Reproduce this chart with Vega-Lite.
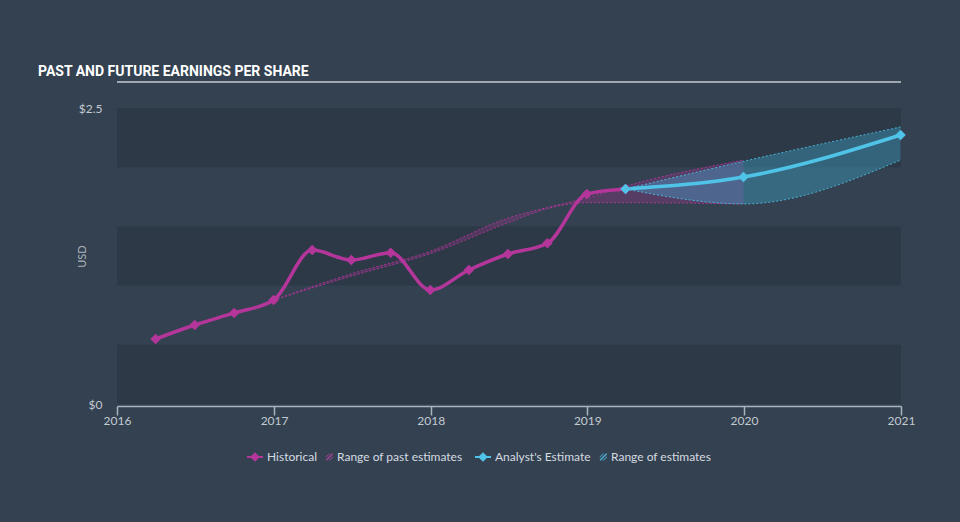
{
  "$schema": "https://vega.github.io/schema/vega-lite/v6.json",
  "width": 784,
  "height": 296,
  "autosize": {"type": "none"},
  "padding": {"left": 117, "top": 108, "right": 59, "bottom": 118},
  "background": "#334150",
  "title": {
    "text": "PAST AND FUTURE EARNINGS PER SHARE",
    "anchor": "start",
    "frame": "group",
    "dx": -79,
    "offset": 2,
    "fontSize": 14,
    "font": "Roboto",
    "fontWeight": "bold",
    "color": "#ffffff"
  },
  "config": {
    "view": {"stroke": null},
    "font": "Lato",
    "axis": {"grid": false, "labelFont": "Lato", "titleFont": "Lato"}
  },
  "resolve": {"scale": {"color": "independent"}, "legend": {"color": "independent"}},
  "datasets": {
    "bands": [{"lo": 0, "hi": 0.5}, {"lo": 1, "hi": 1.5}, {"lo": 2, "hi": 2.5}],
    "eps": [
      {"date": "2016-03-31", "eps": 0.549, "series": "Historical"},
      {"date": "2016-06-30", "eps": 0.667, "series": "Historical"},
      {"date": "2016-09-30", "eps": 0.769, "series": "Historical"},
      {"date": "2016-12-31", "eps": 0.878, "series": "Historical"},
      {"date": "2017-03-31", "eps": 1.30, "series": "Historical"},
      {"date": "2017-06-30", "eps": 1.216, "series": "Historical"},
      {"date": "2017-09-30", "eps": 1.278, "series": "Historical"},
      {"date": "2017-12-31", "eps": 0.963, "series": "Historical"},
      {"date": "2018-03-31", "eps": 1.132, "series": "Historical"},
      {"date": "2018-06-30", "eps": 1.267, "series": "Historical"},
      {"date": "2018-09-30", "eps": 1.357, "series": "Historical"},
      {"date": "2018-12-31", "eps": 1.774, "series": "Historical"},
      {"date": "2019-03-31", "eps": 1.816, "series": "Historical"},
      {"date": "2019-03-31", "eps": 1.816, "series": "Analyst's Estimate"},
      {"date": "2019-12-31", "eps": 1.917, "series": "Analyst's Estimate"},
      {"date": "2020-12-31", "eps": 2.272, "series": "Analyst's Estimate"}
    ],
    "pastRange": [
      {"date": "2016-12-31", "low": 0.878, "high": 0.878},
      {"date": "2017-06-30", "low": 1.08, "high": 1.10},
      {"date": "2017-12-31", "low": 1.27, "high": 1.29},
      {"date": "2018-06-30", "low": 1.53, "high": 1.57},
      {"date": "2018-09-30", "low": 1.65, "high": 1.66},
      {"date": "2018-12-31", "low": 1.70, "high": 1.74},
      {"date": "2019-03-31", "low": 1.70, "high": 1.84},
      {"date": "2019-12-31", "low": 1.69, "high": 2.06}
    ],
    "futureRange": [
      {"date": "2019-03-31", "low": 1.816, "high": 1.816},
      {"date": "2019-12-31", "low": 1.69, "high": 2.05},
      {"date": "2020-12-31", "low": 2.06, "high": 2.34}
    ]
  },
  "encoding": {
    "x": {
      "field": "date",
      "type": "temporal",
      "title": null,
      "scale": {
        "type": "utc",
        "domain": [
          {"year": 2016, "month": 1, "date": 1, "utc": true},
          {"year": 2021, "month": 1, "date": 1, "utc": true}
        ]
      },
      "axis": {
        "values": [
          {"year": 2016, "month": 1, "date": 1, "utc": true},
          {"year": 2017, "month": 1, "date": 1, "utc": true},
          {"year": 2018, "month": 1, "date": 1, "utc": true},
          {"year": 2019, "month": 1, "date": 1, "utc": true},
          {"year": 2020, "month": 1, "date": 1, "utc": true},
          {"year": 2021, "month": 1, "date": 1, "utc": true}
        ],
        "format": "%Y",
        "domainColor": "#aab4bf",
        "domainWidth": 1.5,
        "tickColor": "#aab4bf",
        "tickSize": 9,
        "tickWidth": 1.5,
        "offset": 2,
        "labelColor": "#c3cad2",
        "labelFontSize": 12,
        "labelPadding": 0,
        "labelFlush": false
      }
    }
  },
  "layer": [
    {
      "data": {"name": "bands"},
      "mark": {"type": "rect", "color": "#2d3947"},
      "encoding": {
        "x": null,
        "y": {
          "field": "lo",
          "type": "quantitative",
          "title": "USD",
          "scale": {"domain": [0, 2.5], "nice": false},
          "axis": {
            "values": [0, 2.5],
            "labelExpr": "'$' + datum.value",
            "domain": false,
            "ticks": false,
            "labelPadding": 15,
            "labelColor": "#c3cad2",
            "labelFontSize": 12,
            "titleColor": "#aab2bc",
            "titleFontSize": 11,
            "titleFontWeight": "normal",
            "titleX": -30,
            "titleY": 148
          }
        },
        "y2": {"field": "hi"}
      }
    },
    {
      "data": {"name": "pastRange"},
      "mark": {"type": "area", "interpolate": "monotone", "color": "#b5369b", "fillOpacity": 0.28},
      "encoding": {"y": {"field": "low", "type": "quantitative"}, "y2": {"field": "high"}}
    },
    {
      "data": {"name": "pastRange"},
      "mark": {"type": "line", "interpolate": "monotone", "color": "#b5369b", "strokeWidth": 1, "strokeDash": [2, 2], "opacity": 0.85},
      "encoding": {"y": {"field": "low", "type": "quantitative"}}
    },
    {
      "data": {"name": "pastRange"},
      "mark": {"type": "line", "interpolate": "monotone", "color": "#b5369b", "strokeWidth": 1, "strokeDash": [2, 2], "opacity": 0.85},
      "encoding": {"y": {"field": "high", "type": "quantitative"}}
    },
    {
      "data": {"name": "futureRange"},
      "mark": {"type": "area", "interpolate": "monotone", "color": "#3fb5dc", "fillOpacity": 0.35},
      "encoding": {"y": {"field": "low", "type": "quantitative"}, "y2": {"field": "high"}}
    },
    {
      "data": {"name": "futureRange"},
      "mark": {"type": "line", "interpolate": "monotone", "color": "#4fc3e8", "strokeWidth": 1, "strokeDash": [2, 2], "opacity": 0.85},
      "encoding": {"y": {"field": "low", "type": "quantitative"}}
    },
    {
      "data": {"name": "futureRange"},
      "mark": {"type": "line", "interpolate": "monotone", "color": "#4fc3e8", "strokeWidth": 1, "strokeDash": [2, 2], "opacity": 0.85},
      "encoding": {"y": {"field": "high", "type": "quantitative"}}
    },
    {
      "data": {"name": "eps"},
      "transform": [{"filter": "datum.series == 'Historical'"}],
      "mark": {"type": "line", "interpolate": "monotone", "color": "#b5369b", "strokeWidth": 3.5},
      "encoding": {"y": {"field": "eps", "type": "quantitative"}}
    },
    {
      "data": {"name": "eps"},
      "transform": [{"filter": "datum.series != 'Historical'"}],
      "mark": {"type": "line", "interpolate": "monotone", "color": "#4fc3e8", "strokeWidth": 3.5},
      "encoding": {"y": {"field": "eps", "type": "quantitative"}}
    },
    {
      "data": {"name": "eps"},
      "transform": [{"filter": "datum.series == 'Historical'"}],
      "mark": {"type": "point", "shape": "diamond", "filled": true, "size": 110, "opacity": 1},
      "encoding": {
        "y": {"field": "eps", "type": "quantitative"},
        "color": {
          "field": "series",
          "type": "nominal",
          "scale": {
            "domain": ["Historical", "Range of past estimates"],
            "range": ["#b5369b", "#9a4590"]
          },
          "legend": {
            "title": null,
            "orient": "none",
            "direction": "horizontal",
            "legendX": 130,
            "legendY": 341,
            "padding": 0,
            "columnPadding": -6,
            "symbolSize": 256,
            "symbolStrokeWidth": 0,
            "symbolOpacity": 1,
            "labelOffset": 4,
            "labelFont": "Lato",
            "labelFontSize": 12,
            "labelColor": "#d6dbe0",
            "encode": {
              "symbols": {
                "update": {
                  "shape": {"signal": "indexof(datum.label, 'Range') >= 0 ? 'M0.1,0.3L0.85,-0.45L1,-0.45L1,-0.3L0.25,0.45L0.1,0.45ZM0.1,-0.05L0.5,-0.45L0.65,-0.45L0.1,0.1ZM1,0.05L0.6,0.45L0.45,0.45L1,-0.1Z' : 'M-1,-0.12L-0.48,-0.12L0,-0.6L0.48,-0.12L1,-0.12L1,0.12L0.48,0.12L0,0.6L-0.48,0.12L-1,0.12Z'"}
                }
              }
            }
          }
        }
      }
    },
    {
      "data": {"name": "eps"},
      "transform": [{"filter": "datum.series != 'Historical'"}],
      "mark": {"type": "point", "shape": "diamond", "filled": true, "size": 110, "opacity": 1},
      "encoding": {
        "y": {"field": "eps", "type": "quantitative"},
        "color": {
          "field": "series",
          "type": "nominal",
          "scale": {
            "domain": ["Analyst's Estimate", "Range of estimates"],
            "range": ["#4fc3e8", "#4aa8cc"]
          },
          "legend": {
            "title": null,
            "orient": "none",
            "direction": "horizontal",
            "legendX": 358,
            "legendY": 341,
            "padding": 0,
            "columnPadding": -6,
            "symbolSize": 256,
            "symbolStrokeWidth": 0,
            "symbolOpacity": 1,
            "labelOffset": 4,
            "labelFont": "Lato",
            "labelFontSize": 12,
            "labelColor": "#d6dbe0",
            "encode": {
              "symbols": {
                "update": {
                  "shape": {"signal": "indexof(datum.label, 'Range') >= 0 ? 'M0.1,0.3L0.85,-0.45L1,-0.45L1,-0.3L0.25,0.45L0.1,0.45ZM0.1,-0.05L0.5,-0.45L0.65,-0.45L0.1,0.1ZM1,0.05L0.6,0.45L0.45,0.45L1,-0.1Z' : 'M-1,-0.12L-0.48,-0.12L0,-0.6L0.48,-0.12L1,-0.12L1,0.12L0.48,0.12L0,0.6L-0.48,0.12L-1,0.12Z'"}
                }
              }
            }
          }
        }
      }
    },
    {
      "data": {"values": [{"k": 1}]},
      "mark": {"type": "rule", "color": "#c4cad1", "strokeWidth": 1.5, "clip": false},
      "encoding": {
        "x": null,
        "y": {"datum": 2.72, "type": "quantitative"}
      }
    }
  ]
}
